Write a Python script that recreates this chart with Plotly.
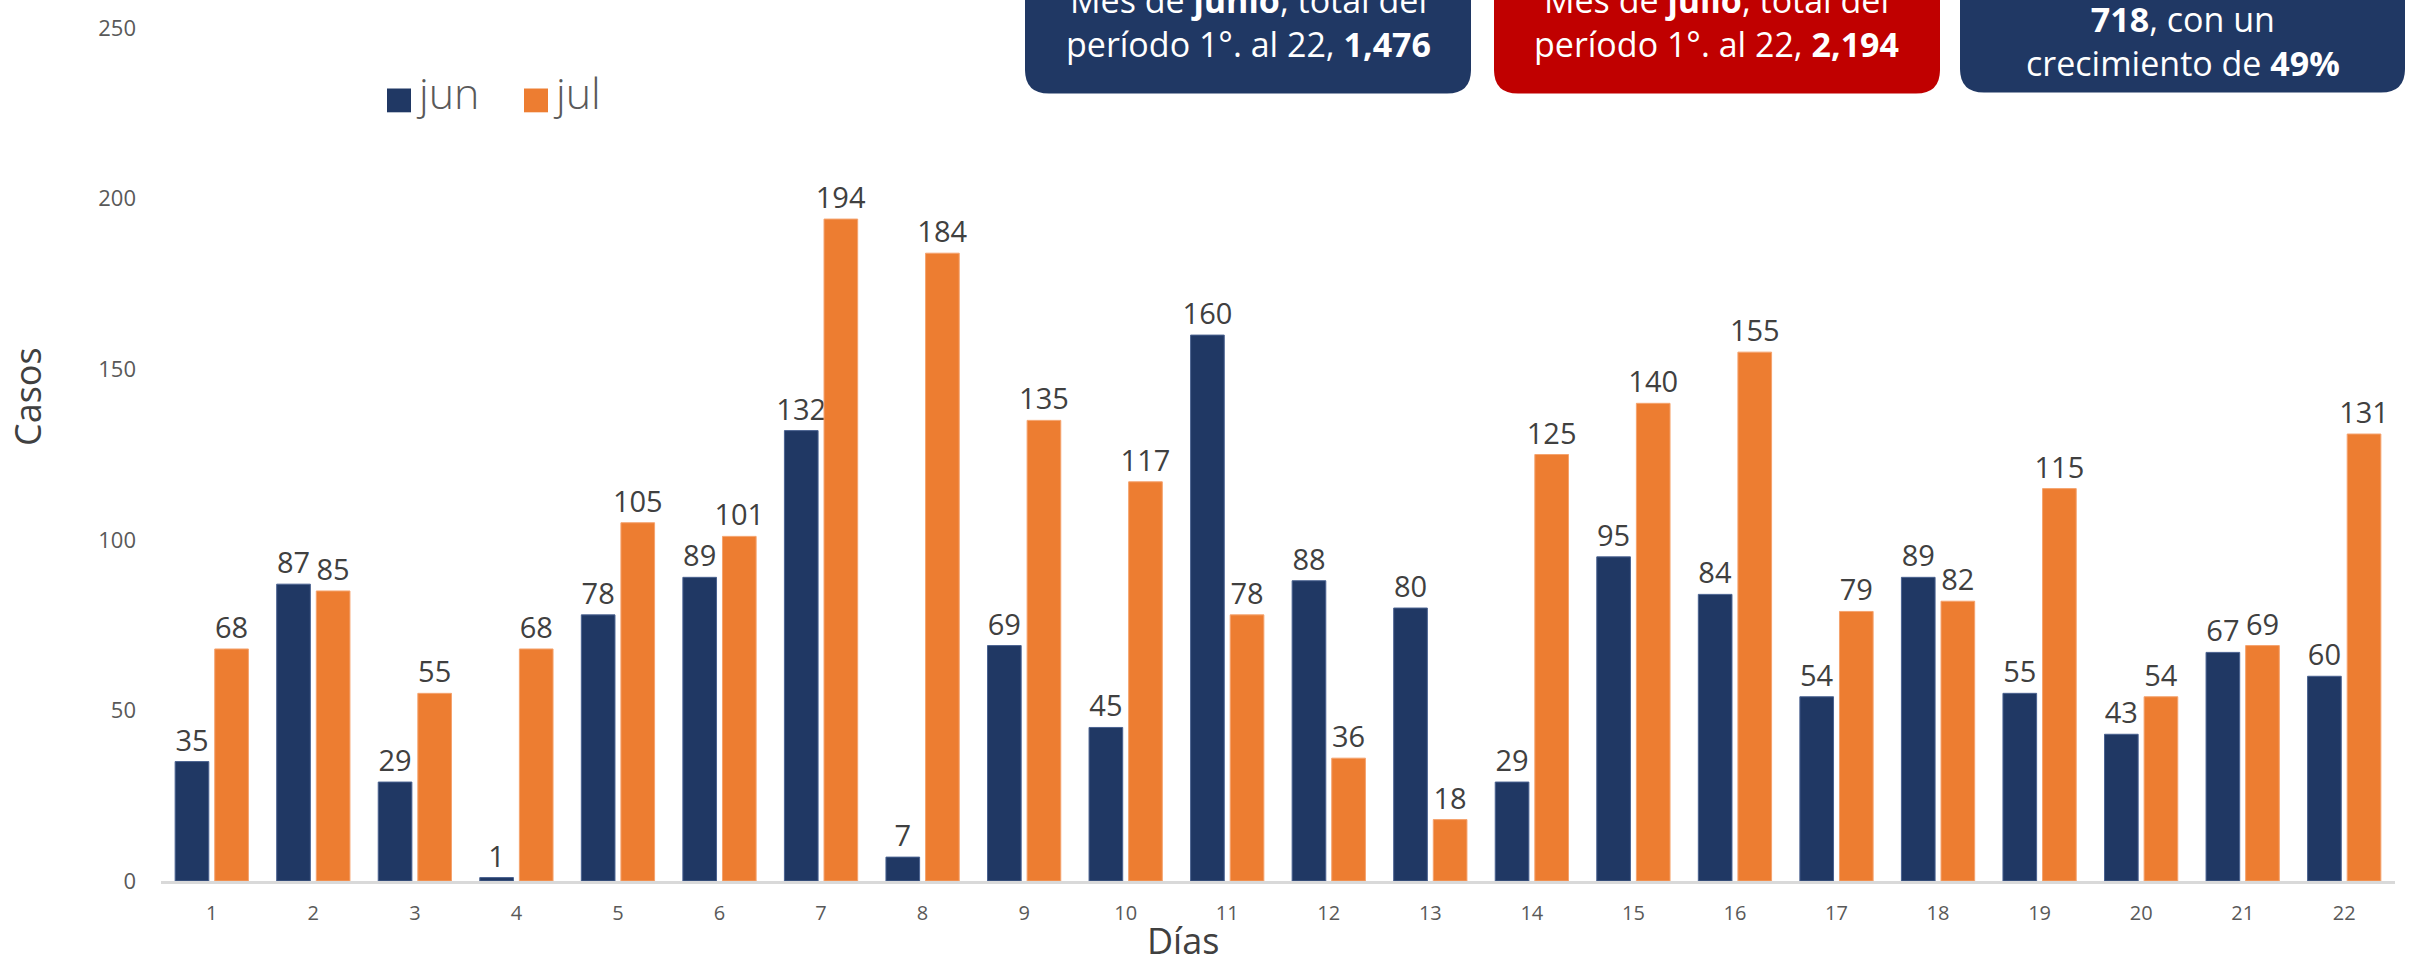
import plotly.graph_objects as go

# ---------------- data ----------------
dias = [str(d) for d in range(1, 23)]
jun = [35, 87, 29, 1, 78, 89, 132, 7, 69, 45, 160, 88, 80, 29, 95, 84, 54, 89, 55, 43, 67, 60]
jul = [68, 85, 55, 68, 105, 101, 194, 184, 135, 117, 78, 36, 18, 125, 140, 155, 79, 82, 115, 54, 69, 131]
series_names = ["jun", "jul"]
y_ticks = [0, 50, 100, 150, 200, 250]

box_texts = [
    "Mes de <b>junio</b>, total del<br>período 1°. al 22, <b>1,476</b>",
    "Mes de <b>julio</b>, total del<br>período 1°. al 22, <b>2,194</b>",
    "<b>718</b>, con un<br>crecimiento de <b>49%</b>",
]

# ---------------- styles ----------------
NAVY = "#203864"
ORANGE = "#ED7D31"
RED = "#C00000"
FONT = "Roboto"
FONT2 = "Open Sans"
W, H = 2410, 959
ML, MR, MT, MB = 161, 15, 21, 78
PW, PH = W - ML - MR, H - MT - MB


def px(x):
    return (x - ML) / PW


def py(y):
    return (H - MB - y) / PH


fig = go.Figure()
for name, vals, col, edge in [(series_names[0], jun, NAVY, "#4A6290"),
                              (series_names[1], jul, ORANGE, "#F5A36E")]:
    fig.add_trace(go.Bar(
        name=name, x=dias, y=vals,
        marker=dict(color=col, line=dict(color=edge, width=1)),
        text=vals, textposition="outside", cliponaxis=False,
        textfont=dict(family=FONT2, size=29, color="#404040"),
        constraintext="none", showlegend=False,
    ))

shapes = []
annotations = []

# rounded boxes at the top
boxes = [(1025, 1471, 87, NAVY), (1494, 1940, 87, RED), (1960, 2405, 86, NAVY)]
r = 24
for (x0, x1, yb, col) in boxes:
    top = -40
    path = (f"M{px(x0)},{py(top)} L{px(x1)},{py(top)} L{px(x1)},{py(yb - r)} "
            f"Q{px(x1)},{py(yb)} {px(x1 - r)},{py(yb)} L{px(x0 + r)},{py(yb)} "
            f"Q{px(x0)},{py(yb)} {px(x0)},{py(yb - r)} Z")
    shapes.append(dict(type="path", xref="paper", yref="paper", path=path,
                       fillcolor=col, line=dict(width=0), layer="above"))

text_centers = [15, 15, 34]
for (x0, x1, yb, col), txt, cy in zip(boxes, box_texts, text_centers):
    annotations.append(dict(
        x=px((x0 + x1) / 2), y=py(cy), xref="paper", yref="paper",
        text=txt, showarrow=False, xanchor="center", yanchor="middle",
        font=dict(family=FONT2, size=34, color="white")))

# manual legend
leg = [(387, series_names[0], NAVY), (524, series_names[1], ORANGE)]
for x0, name, col in leg:
    shapes.append(dict(type="rect", xref="paper", yref="paper",
                       x0=px(x0), x1=px(x0 + 24), y0=py(106), y1=py(82),
                       fillcolor=col, line=dict(width=0)))
    annotations.append(dict(x=px(x0 + 27), y=py(86), xref="paper", yref="paper",
                            text=name, showarrow=False, xanchor="left", yanchor="middle",
                            font=dict(family=FONT2, size=43, color="#595959", weight=300)))

# axis titles
annotations.append(dict(x=px(28), y=py(393), xref="paper", yref="paper", text="Casos",
                        showarrow=False, textangle=-90, xanchor="center", yanchor="middle",
                        font=dict(family=FONT2, size=36, color="#404040")))
annotations.append(dict(x=px(1183), y=py(941), xref="paper", yref="paper", text="Días",
                        showarrow=False, xanchor="center", yanchor="middle",
                        font=dict(family=FONT2, size=36, color="#404040")))

fig.update_layout(
    width=W, height=H,
    margin=dict(l=ML, r=MR, t=MT, b=MB, pad=0),
    paper_bgcolor="white", plot_bgcolor="white",
    barmode="group", bargap=0.22, bargroupgap=0.15,
    shapes=shapes, annotations=annotations,
    font=dict(family=FONT, color="#595959"),
)
fig.update_xaxes(type="category", showgrid=False, showline=True, linecolor="#D9D9D9",
                 linewidth=3, ticks="", tickfont=dict(family=FONT2, size=20, color="#595959"),
                 ticklabelstandoff=12)
fig.update_yaxes(range=[0, 250], tickvals=y_ticks, showgrid=False, zeroline=False,
                 showline=False, ticks="", tickfont=dict(family=FONT2, size=22, color="#595959"),
                 ticklabelstandoff=24)

fig.write_html("out.html", config={"displayModeBar": False},
               post_script="document.body.style.margin='0';document.body.style.overflow='hidden';")
